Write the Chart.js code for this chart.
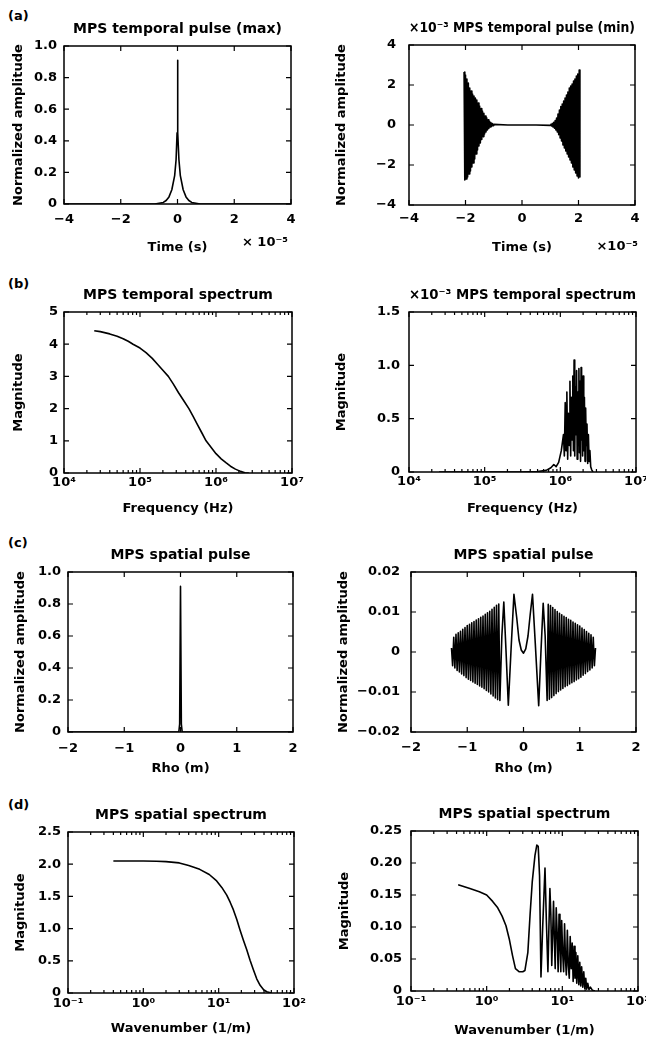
<!DOCTYPE html>
<html>
<head>
<meta charset="utf-8">
<script src="https://cdn.jsdelivr.net/npm/chart.js@4.4.0/dist/chart.umd.min.js"></script>
<style>
  body { margin: 0; background: #fff; width: 646px; height: 1042px; overflow: hidden; position: relative; }
  canvas { position: absolute; }
  .tag { position: absolute; left: 8px; font: bold 13px "DejaVu Sans", sans-serif; color: #000; }
</style>
</head>
<body>
<div class="tag" style="top:8px">(a)</div>
<div class="tag" style="top:276px">(b)</div>
<div class="tag" style="top:535px">(c)</div>
<div class="tag" style="top:797px">(d)</div>
<script>
// (a) temporal pulse, [time (x1e-5 s), amplitude]
var pulseMax = [[-4, 0], [-0.8, 0], [-0.5, 0.01], [-0.4, 0.022], [-0.3, 0.045], [-0.2, 0.09], [-0.1, 0.18], [-0.05, 0.28], [-0.015, 0.45],
  [0, 0.91], [0.015, 0.45], [0.05, 0.28], [0.1, 0.18], [0.2, 0.09], [0.3, 0.045], [0.4, 0.022], [0.5, 0.01], [0.8, 0], [4, 0]];
// amplitude x1e-3
var pulseMin = [[-2.05, 2.65], [-2.025, -2.75], [-2.0, 2.5], [-1.975, -2.7], [-1.95, 2.3], [-1.925, -2.6], [-1.9, 2.1], [-1.875, -2.45],
  [-1.85, 1.85], [-1.825, -2.3], [-1.8, 1.7], [-1.775, -2.1], [-1.75, 1.55], [-1.725, -1.9], [-1.7, 1.45], [-1.675, -1.7],
  [-1.65, 1.35], [-1.625, -1.45], [-1.6, 1.25], [-1.575, -1.25], [-1.55, 1.1], [-1.525, -1.05], [-1.5, 0.95], [-1.475, -0.9],
  [-1.45, 0.82], [-1.425, -0.72], [-1.4, 0.7], [-1.375, -0.58], [-1.35, 0.58], [-1.325, -0.45], [-1.3, 0.45], [-1.275, -0.35],
  [-1.25, 0.36], [-1.225, -0.25], [-1.2, 0.26], [-1.175, -0.17], [-1.15, 0.18], [-1.125, -0.1], [-1.1, 0.12], [-1.075, -0.06],
  [-1.05, 0.07], [-1.025, -0.03], [-1.0, 0.03], [-0.5, 0], [0, 0], [0.5, 0],
  [1.0, -0.02], [1.025, 0.04], [1.05, -0.05], [1.075, 0.08], [1.1, -0.1], [1.125, 0.14], [1.15, -0.16], [1.175, 0.22],
  [1.2, -0.25], [1.225, 0.35], [1.25, -0.35], [1.275, 0.55], [1.3, -0.48], [1.325, 0.75], [1.35, -0.65], [1.375, 0.92],
  [1.4, -0.8], [1.425, 1.05], [1.45, -1.0], [1.475, 1.2], [1.5, -1.15], [1.525, 1.35], [1.55, -1.3], [1.575, 1.5],
  [1.6, -1.45], [1.625, 1.65], [1.65, -1.6], [1.675, 1.85], [1.7, -1.75], [1.725, 1.95], [1.75, -1.9], [1.775, 2.05],
  [1.8, -2.1], [1.825, 2.2], [1.85, -2.25], [1.875, 2.3], [1.9, -2.4], [1.925, 2.45], [1.95, -2.55], [1.975, 2.55],
  [2.0, -2.65], [2.025, 2.75], [2.05, -2.6]];

// (b) temporal spectrum, [frequency (Hz), magnitude]
var specMax = [[2.5e4, 4.42], [3e4, 4.39], [4e4, 4.32], [5e4, 4.25], [6e4, 4.17], [7e4, 4.09], [8.1e4, 4.0], [1e5, 3.88],
  [1.2e5, 3.74], [1.45e5, 3.56], [1.7e5, 3.38], [2e5, 3.19], [2.36e5, 3.0], [2.75e5, 2.76], [3.2e5, 2.5], [3.75e5, 2.25],
  [4.4e5, 2.0], [5e5, 1.76], [5.7e5, 1.5], [6.5e5, 1.25], [7.4e5, 1.0], [8.6e5, 0.8], [1e6, 0.6], [1.17e6, 0.44],
  [1.35e6, 0.32], [1.55e6, 0.21], [1.8e6, 0.12], [2.1e6, 0.05], [2.4e6, 0.01], [2.7e6, 0]];
// magnitude x1e-3
var specMin = [[2.5e4, 0], [3e5, 0], [5e5, 0.005], [6.5e5, 0.015], [7.5e5, 0.04], [8.2e5, 0.07], [8.8e5, 0.05], [9.5e5, 0.09],
  [1.03e6, 0.2], [1.1e6, 0.35], [1.13e6, 0.15], [1.16e6, 0.65], [1.19e6, 0.2], [1.22e6, 0.75], [1.25e6, 0.12], [1.28e6, 0.55],
  [1.31e6, 0.25], [1.34e6, 0.85], [1.37e6, 0.15], [1.4e6, 0.7], [1.43e6, 0.3], [1.46e6, 0.9], [1.49e6, 0.2], [1.52e6, 1.05],
  [1.55e6, 0.15], [1.58e6, 0.8], [1.61e6, 0.35], [1.64e6, 0.95], [1.67e6, 0.12], [1.7e6, 0.75], [1.73e6, 0.25], [1.76e6, 0.97],
  [1.79e6, 0.18], [1.82e6, 0.85], [1.85e6, 0.1], [1.88e6, 0.98], [1.91e6, 0.3], [1.94e6, 0.8], [1.97e6, 0.15], [2.0e6, 0.9],
  [2.04e6, 0.2], [2.08e6, 0.7], [2.12e6, 0.1], [2.16e6, 0.6], [2.2e6, 0.25], [2.25e6, 0.45], [2.3e6, 0.08], [2.35e6, 0.35],
  [2.4e6, 0.1], [2.46e6, 0.2], [2.52e6, 0.05], [2.6e6, 0.02], [2.7e6, 0]];

// (c) spatial pulse, [rho (m), amplitude]
var spatMax = [[-2, 0], [-0.03, 0], [-0.015, 0.05], [0, 0.91], [0.015, 0.05], [0.03, 0], [2, 0]];
var spatMin = [[-1.28, 0.001], [-1.26, -0.0034], [-1.24, 0.0037], [-1.22, -0.004], [-1.2, 0.0044], [-1.18, -0.0046],
  [-1.16, 0.0048], [-1.14, -0.005], [-1.12, 0.0052], [-1.1, -0.0055], [-1.08, 0.0057], [-1.06, -0.0059], [-1.04, 0.0061],
  [-1.02, -0.0064], [-1.0, 0.0066], [-0.98, -0.0068], [-0.96, 0.0069], [-0.94, -0.0071], [-0.92, 0.0073], [-0.9, -0.0075],
  [-0.88, 0.0076], [-0.86, -0.0078], [-0.84, 0.008], [-0.82, -0.0081], [-0.8, 0.0083], [-0.78, -0.0085], [-0.76, 0.0087],
  [-0.74, -0.0088], [-0.72, 0.009], [-0.7, -0.0092], [-0.68, 0.0094], [-0.66, -0.0096], [-0.64, 0.0098], [-0.62, -0.01],
  [-0.6, 0.0102], [-0.58, -0.0105], [-0.56, 0.0107], [-0.54, -0.011], [-0.52, 0.0112], [-0.5, -0.0115], [-0.48, 0.0117],
  [-0.46, -0.0119], [-0.44, 0.012], [-0.42, -0.0121], [-0.385, 0.004], [-0.35, 0.0125], [-0.31, 0.0], [-0.27, -0.0133],
  [-0.22, 0.001], [-0.17, 0.0144], [-0.12, 0.0085], [-0.08, 0.003], [-0.04, 0.0005], [0, -0.0003],
  [0.04, 0.0008], [0.08, 0.004], [0.12, 0.0095], [0.16, 0.0144], [0.21, 0.002], [0.27, -0.0134], [0.31, 0.0], [0.35, 0.0122],
  [0.385, 0.004], [0.42, -0.0121], [0.44, 0.0119], [0.46, -0.0118], [0.48, 0.0116], [0.5, -0.0114], [0.52, 0.0111],
  [0.54, -0.0109], [0.56, 0.0106], [0.58, -0.0104], [0.6, 0.0101], [0.62, -0.0099], [0.64, 0.0097], [0.66, -0.0095],
  [0.68, 0.0093], [0.7, -0.0091], [0.72, 0.0089], [0.74, -0.0087], [0.76, 0.0086], [0.78, -0.0084], [0.8, 0.0082],
  [0.82, -0.008], [0.84, 0.0079], [0.86, -0.0077], [0.88, 0.0075], [0.9, -0.0074], [0.92, 0.0072], [0.94, -0.007],
  [0.96, 0.0068], [0.98, -0.0067], [1.0, 0.0065], [1.02, -0.0063], [1.04, 0.006], [1.06, -0.0058], [1.08, 0.0056],
  [1.1, -0.0054], [1.12, 0.0051], [1.14, -0.0049], [1.16, 0.0047], [1.18, -0.0045], [1.2, 0.0043], [1.22, -0.004],
  [1.24, 0.0037], [1.26, -0.0034], [1.28, 0.001]];

// (d) spatial spectrum, [wavenumber (1/m), magnitude]
var kspecMax = [[0.4, 2.05], [0.6, 2.05], [1.0, 2.05], [1.5, 2.045], [2.0, 2.04], [3.0, 2.02], [4.0, 1.98], [5.6, 1.92],
  [7.5, 1.84], [9.4, 1.74], [11, 1.64], [12.8, 1.52], [14.2, 1.41], [15.7, 1.29], [17.4, 1.14], [19.2, 0.98], [21.3, 0.82],
  [23.6, 0.67], [26.1, 0.51], [28.9, 0.36], [32, 0.22], [35.5, 0.12], [39.5, 0.05], [43.5, 0.02], [50, 0]];
var kspecMin = [[0.42, 0.166], [0.6, 0.16], [0.8, 0.155], [1.0, 0.15], [1.2, 0.14], [1.4, 0.13], [1.6, 0.117], [1.8, 0.102],
  [2.0, 0.08], [2.2, 0.055], [2.4, 0.035], [2.7, 0.03], [3.0, 0.03], [3.2, 0.032], [3.5, 0.06], [3.75, 0.12], [4.0, 0.17],
  [4.35, 0.212], [4.6, 0.228], [4.8, 0.226], [5.0, 0.18], [5.22, 0.022], [5.5, 0.1], [5.9, 0.192], [6.15, 0.11], [6.45, 0.03],
  [6.65, 0.1], [6.85, 0.16], [7.05, 0.12], [7.25, 0.04], [7.45, 0.09], [7.65, 0.14], [7.85, 0.08], [8.05, 0.035], [8.3, 0.13],
  [8.55, 0.09], [8.8, 0.03], [9.05, 0.12], [9.3, 0.07], [9.55, 0.03], [9.8, 0.11], [10.1, 0.06], [10.4, 0.03], [10.7, 0.105],
  [11.0, 0.05], [11.3, 0.025], [11.65, 0.095], [12.0, 0.04], [12.35, 0.02], [12.7, 0.085], [13.1, 0.035], [13.5, 0.075],
  [13.9, 0.015], [14.3, 0.07], [14.7, 0.02], [15.1, 0.06], [15.5, 0.012], [16.0, 0.055], [16.5, 0.01], [17.0, 0.045],
  [17.5, 0.008], [18.0, 0.038], [18.6, 0.006], [19.2, 0.03], [19.8, 0.004], [20.4, 0.02], [21.0, 0.003], [21.7, 0.012],
  [22.5, 0.002], [23.5, 0.006], [25, 0.001], [27, 0]];

// tick values and labels
var timeTicks = [-4, -2, 0, 2, 4], timeLabels = ['\u22124', '\u22122', '0', '2', '4'];
var ampTicks = [0, 0.2, 0.4, 0.6, 0.8, 1], ampLabels = ['0', '0.2', '0.4', '0.6', '0.8', '1.0'];
var minAmpTicks = [-4, -2, 0, 2, 4], minAmpLabels = ['\u22124', '\u22122', '0', '2', '4'];
var freqTicks = [1e4, 1e5, 1e6, 1e7], freqLabels = ['10\u2074', '10\u2075', '10\u2076', '10\u2077'];
var magTicks = [0, 1, 2, 3, 4, 5], magLabels = ['0', '1', '2', '3', '4', '5'];
var magMinTicks = [0, 0.5, 1, 1.5], magMinLabels = ['0', '0.5', '1.0', '1.5'];
var rhoTicks = [-2, -1, 0, 1, 2], rhoLabels = ['\u22122', '\u22121', '0', '1', '2'];
var spatTicks = [-0.02, -0.01, 0, 0.01, 0.02], spatLabels = ['\u22120.02', '\u22120.01', '0', '0.01', '0.02'];
var waveTicks = [0.1, 1, 10, 100], waveLabels = ['10\u207b\u00b9', '10\u2070', '10\u00b9', '10\u00b2'];
var kMagTicks = [0, 0.5, 1, 1.5, 2, 2.5], kMagLabels = ['0', '0.5', '1.0', '1.5', '2.0', '2.5'];
var kMinTicks = [0, 0.05, 0.1, 0.15, 0.2, 0.25], kMinLabels = ['0', '0.05', '0.10', '0.15', '0.20', '0.25'];

Chart.defaults.font.family = '"DejaVu Sans", sans-serif';
Chart.defaults.font.size = 13;
Chart.defaults.font.weight = 'bold';
Chart.defaults.color = '#000';

// box frame with inward ticks (matlab style) + extra note text
var frame = {
  id: 'frame',
  afterDraw: function (chart, args, opts) {
    var ctx = chart.ctx, a = chart.chartArea, x = chart.scales.x, y = chart.scales.y;
    ctx.save();
    ctx.strokeStyle = '#000';
    ctx.lineWidth = 1.2;
    ctx.beginPath();
    x.ticks.forEach(function (t) {
      var p = x.getPixelForValue(t.value);
      ctx.moveTo(p, a.bottom); ctx.lineTo(p, a.bottom - 5);
      ctx.moveTo(p, a.top); ctx.lineTo(p, a.top + 5);
    });
    if (x.type === 'logarithmic') {
      for (var e = Math.log10(x.min); e < Math.log10(x.max) - 0.01; e++) {
        for (var m = 2; m < 10; m++) {
          var p = x.getPixelForValue(m * Math.pow(10, e));
          ctx.moveTo(p, a.bottom); ctx.lineTo(p, a.bottom - 3);
          ctx.moveTo(p, a.top); ctx.lineTo(p, a.top + 3);
        }
      }
    }
    y.ticks.forEach(function (t) {
      var p = y.getPixelForValue(t.value);
      ctx.moveTo(a.left, p); ctx.lineTo(a.left + 5, p);
      ctx.moveTo(a.right, p); ctx.lineTo(a.right - 5, p);
    });
    ctx.stroke();
    ctx.lineWidth = 1.5;
    ctx.strokeRect(a.left, a.top, a.right - a.left, a.bottom - a.top);
    if (opts.note) {
      ctx.fillStyle = '#000';
      ctx.font = 'bold 13px "DejaVu Sans", sans-serif';
      ctx.textAlign = 'right';
      ctx.textBaseline = 'middle';
      ctx.fillText(opts.note, a.right + opts.dx, a.bottom + opts.dy);
    }
    ctx.restore();
  }
};

var panels = [
  { cx: 0, L: 64, T: 46, R: 291, B: 204, xH: 51, yTitleX: 19, xPad: 8, yPad: 7,
    title: 'MPS temporal pulse (max)', xTitle: 'Time (s)', yTitle: 'Normalized amplitude',
    pts: pulseMax, xMin: -4, xMax: 4, xTicks: timeTicks, xLabels: timeLabels,
    yMin: 0, yMax: 1, yTicks: ampTicks, yLabels: ampLabels, note: '\u00d7 10\u207b\u2075', dx: -3, dy: 39 },
  { cx: 323, L: 409, T: 45, R: 635, B: 205, xH: 50, yTitleX: 19, xPad: 6, yPad: 13,
    title: '\u00d710\u207b\u00b3 MPS temporal pulse (min)', xTitle: 'Time (s)', yTitle: 'Normalized amplitude',
    pts: pulseMin, xMin: -4, xMax: 4, xTicks: timeTicks, xLabels: timeLabels,
    yMin: -4, yMax: 4, yTicks: minAmpTicks, yLabels: minAmpLabels, note: '\u00d710\u207b\u2075', dx: 3, dy: 42 },
  { cx: 0, L: 64, T: 312, R: 292, B: 473, xH: 43, yTitleX: 19, xPad: 2, yPad: 6, log: true,
    title: 'MPS temporal spectrum', xTitle: 'Frequency (Hz)', yTitle: 'Magnitude',
    pts: specMax, xMin: 1e4, xMax: 1e7, xTicks: freqTicks, xLabels: freqLabels,
    yMin: 0, yMax: 5, yTicks: magTicks, yLabels: magLabels },
  { cx: 323, L: 409, T: 312, R: 636, B: 472, xH: 44, yTitleX: 19, xPad: 2, yPad: 9, log: true,
    title: '\u00d710\u207b\u00b3 MPS temporal spectrum', xTitle: 'Frequency (Hz)', yTitle: 'Magnitude',
    pts: specMin, xMin: 1e4, xMax: 1e7, xTicks: freqTicks, xLabels: freqLabels,
    yMin: 0, yMax: 1.5, yTicks: magMinTicks, yLabels: magMinLabels },
  { cx: 0, L: 68, T: 572, R: 293, B: 732, xH: 44, yTitleX: 21, xPad: 9, yPad: 7,
    title: 'MPS spatial pulse', xTitle: 'Rho (m)', yTitle: 'Normalized amplitude',
    pts: spatMax, xMin: -2, xMax: 2, xTicks: rhoTicks, xLabels: rhoLabels,
    yMin: 0, yMax: 1, yTicks: ampTicks, yLabels: ampLabels },
  { cx: 323, L: 411, T: 572, R: 636, B: 732, xH: 44, yTitleX: 21, xPad: 8, yPad: 11,
    title: 'MPS spatial pulse', xTitle: 'Rho (m)', yTitle: 'Normalized amplitude',
    pts: spatMin, xMin: -2, xMax: 2, xTicks: rhoTicks, xLabels: rhoLabels,
    yMin: -0.02, yMax: 0.02, yTicks: spatTicks, yLabels: spatLabels },
  { cx: 0, L: 68, T: 832, R: 294, B: 993, xH: 43, yTitleX: 21, xPad: 3, yPad: 7, log: true,
    title: 'MPS spatial spectrum', xTitle: 'Wavenumber (1/m)', yTitle: 'Magnitude',
    pts: kspecMax, xMin: 0.1, xMax: 100, xTicks: waveTicks, xLabels: waveLabels,
    yMin: 0, yMax: 2.5, yTicks: kMagTicks, yLabels: kMagLabels },
  { cx: 323, L: 411, T: 831, R: 638, B: 991, xH: 47, yTitleX: 22, xPad: 3, yPad: 9, log: true,
    title: 'MPS spatial spectrum', xTitle: 'Wavenumber (1/m)', yTitle: 'Magnitude',
    pts: kspecMin, xMin: 0.1, xMax: 100, xTicks: waveTicks, xLabels: waveLabels,
    yMin: 0, yMax: 0.25, yTicks: kMinTicks, yLabels: kMinLabels }
];

function makeChart(p) {
  var cw = p.cx === 0 ? 323 : 340;
  var c = document.createElement('canvas');
  c.width = cw;
  c.height = p.B - p.T + 32 + p.xH;
  c.style.left = p.cx + 'px';
  c.style.top = (p.T - 32) + 'px';
  document.body.appendChild(c);
  var padL = p.yTitleX - 7.8;

  new Chart(c, {
    type: 'scatter',
    data: {
      datasets: [{
        data: p.pts.map(function (d) { return { x: d[0], y: d[1] }; }),
        showLine: true,
        borderColor: '#000',
        borderWidth: 1.6,
        borderJoinStyle: 'round',
        pointRadius: 0
      }]
    },
    options: {
      responsive: false,
      animation: false,
      layout: { padding: { left: padL, right: p.cx + cw - p.R, top: 0, bottom: 0 } },
      plugins: {
        legend: { display: false },
        tooltip: { enabled: false },
        title: { display: true, text: p.title, fullSize: false, font: { size: 14 },
          padding: { top: 7.2, bottom: 8 } },
        frame: { note: p.note, dx: p.dx, dy: p.dy }
      },
      scales: {
        x: {
          type: p.log ? 'logarithmic' : 'linear',
          min: p.xMin, max: p.xMax,
          grid: { display: false, drawTicks: false },
          border: { display: false },
          ticks: { autoSkip: false, maxRotation: 0, minRotation: 0, padding: p.xPad,
            callback: function (v, i) { return p.xLabels[i]; } },
          afterBuildTicks: function (s) { s.ticks = p.xTicks.map(function (v) { return { value: v }; }); },
          afterFit: function (s) { s.height = p.xH; },
          title: { display: true, text: p.xTitle, padding: 0 }
        },
        y: {
          min: p.yMin, max: p.yMax,
          grid: { display: false, drawTicks: false },
          border: { display: false },
          ticks: { autoSkip: false, padding: p.yPad,
            callback: function (v, i) { return p.yLabels[i]; } },
          afterBuildTicks: function (s) { s.ticks = p.yTicks.map(function (v) { return { value: v }; }); },
          afterFit: function (s) { s.width = p.L - p.cx - padL; },
          title: { display: true, text: p.yTitle, padding: 0 }
        }
      }
    },
    plugins: [frame]
  });
}

panels.forEach(makeChart);
</script>
</body>
</html>
